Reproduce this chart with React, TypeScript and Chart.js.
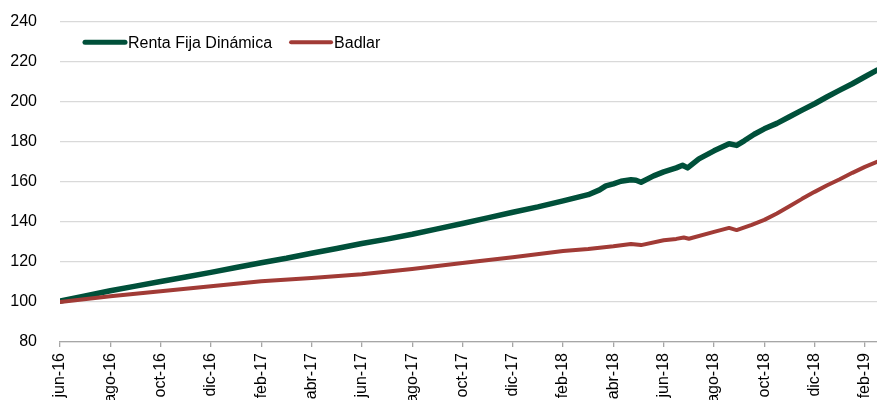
import React, { useEffect, useRef } from 'react';
import { Chart, registerables } from 'chart.js';

Chart.register(...registerables);

// X tick labels, one every two months starting at jun-16 (month index 0)
const tickLabels = [
  'jun-16', 'ago-16', 'oct-16', 'dic-16', 'feb-17', 'abr-17', 'jun-17', 'ago-17',
  'oct-17', 'dic-17', 'feb-18', 'abr-18', 'jun-18', 'ago-18', 'oct-18', 'dic-18', 'feb-19',
];
const seriesNames = ['Renta Fija Dinámica', 'Badlar'];
const seriesColors = ['#00503A', '#A13B36'];
const lastMonth = 32.48;

// Renta Fija Dinámica: months since 1-jun-2016, index value
const rentaMonths = [
  0, 1, 2, 3, 4, 5, 6, 7, 8, 9, 10, 11, 12, 13, 14, 15, 16, 17, 18, 19, 20, 21,
  21.45, 21.7, 22, 22.3, 22.7, 22.9, 23.1, 23.6, 24, 24.5, 24.75, 24.95, 25.4, 26,
  26.6, 26.9, 27.2, 27.6, 28, 28.5, 29, 29.5, 30, 30.5, 31, 31.5, 32, lastMonth,
];
const rentaValues = [
  100.5, 103.0, 105.6, 107.9, 110.2, 112.5, 114.8, 117.2, 119.6, 121.8, 124.3, 126.7,
  129.2, 131.4, 133.8, 136.5, 139.2, 142.0, 144.8, 147.5, 150.5, 153.6,
  156.0, 158.0, 159.0, 160.3, 161.0, 160.8, 159.8, 163.0, 165.0, 167.0, 168.3, 167.0,
  171.5, 175.5, 179.0, 178.2, 180.5, 183.8, 186.5, 189.2, 192.5, 195.8, 199.0, 202.5,
  205.8, 209.0, 212.5, 215.8,
];

// Badlar: months since 1-jun-2016, index value
const badlarMonths = [
  0, 2, 4, 6, 8, 10, 12, 14, 16, 18, 20, 21, 22, 22.7, 23.1, 24, 24.5, 24.8, 25.0,
  26, 26.6, 26.9, 27.5, 28, 28.5, 29, 29.5, 30, 30.5, 31, 31.5, 32, lastMonth,
];
const badlarValues = [
  100.0, 102.8, 105.3, 107.8, 110.3, 112.0, 113.8, 116.5, 119.5, 122.3, 125.5, 126.5,
  127.8, 129.0, 128.4, 130.8, 131.5, 132.2, 131.6, 135.0, 137.0, 135.9, 138.5, 141.0,
  144.2, 147.8, 151.5, 155.0, 158.3, 161.3, 164.5, 167.5, 170.0,
];

const yMin = 80;
const yMax = 240;
const yStep = 20;

const FONT = '"Liberation Sans", Arial, Helvetica, sans-serif';

const insideLegend = {
  id: 'insideLegend',
  afterDraw(chart: any) {
    const ctx = chart.ctx;
    const area = chart.chartArea;
    const y = area.top + 20.6;
    let x = area.left + 25;
    ctx.save();
    ctx.font = `16px ${FONT}`;
    ctx.textBaseline = 'middle';
    ctx.textAlign = 'left';
    chart.data.datasets.forEach((ds: any, i: number) => {
      ctx.strokeStyle = ds.borderColor;
      ctx.lineWidth = i === 0 ? 5 : 4;
      ctx.lineCap = 'round';
      ctx.beginPath();
      ctx.moveTo(x, y);
      ctx.lineTo(x + 40, y);
      ctx.stroke();
      x += 43;
      ctx.fillStyle = '#000';
      ctx.fillText(ds.label, x, y + 1);
      x += ctx.measureText(ds.label).width + 19;
    });
    ctx.restore();
  },
};

export default function App() {
  const canvasRef = useRef<HTMLCanvasElement | null>(null);

  useEffect(() => {
    if (!canvasRef.current) return;
    const chart = new Chart(canvasRef.current, {
      type: 'line',
      data: {
        datasets: [
          {
            label: seriesNames[0],
            data: rentaMonths.map((m, i) => ({ x: m, y: rentaValues[i] })),
            borderColor: seriesColors[0],
            backgroundColor: seriesColors[0],
            borderWidth: 5.5,
            pointRadius: 0,
            tension: 0,
            borderJoinStyle: 'round',
            borderCapStyle: 'round',
            order: 1,
          },
          {
            label: seriesNames[1],
            data: badlarMonths.map((m, i) => ({ x: m, y: badlarValues[i] })),
            borderColor: seriesColors[1],
            backgroundColor: seriesColors[1],
            borderWidth: 4,
            pointRadius: 0,
            tension: 0,
            borderJoinStyle: 'round',
            borderCapStyle: 'round',
            order: 0,
          },
        ],
      },
      options: {
        animation: false,
        responsive: false,
        maintainAspectRatio: false,
        layout: { padding: { top: 21.7, right: 0, left: 0, bottom: 0 } },
        plugins: {
          legend: { display: false },
          tooltip: { enabled: false },
        },
        scales: {
          x: {
            type: 'linear',
            min: 0,
            max: lastMonth,
            afterBuildTicks: (scale: any) => {
              scale.ticks = tickLabels.map((_, i) => ({ value: i * 2 }));
            },
            afterFit: (scale: any) => {
              scale.height = 58;
              scale.paddingLeft = 0;
              scale.paddingRight = 0;
            },
            border: { display: true, color: '#a6a6a6', width: 1.3 },
            grid: {
              display: true,
              drawOnChartArea: false,
              drawTicks: true,
              tickLength: 5,
              color: '#a6a6a6',
              lineWidth: 1.3,
            },
            ticks: {
              autoSkip: false,
              maxRotation: 90,
              minRotation: 90,
              padding: 6,
              color: '#000',
              font: { family: FONT, size: 16 },
              callback: (v: any) => {
                const idx = Math.round(Number(v) / 2);
                return tickLabels[idx] ?? '';
              },
            },
          },
          y: {
            type: 'linear',
            min: yMin,
            max: yMax,
            afterFit: (scale: any) => {
              scale.width = 60;
              scale.paddingTop = 0;
              scale.paddingBottom = 0;
            },
            border: { display: false },
            grid: {
              color: '#d9d9d9',
              lineWidth: 1.3,
              drawTicks: false,
            },
            ticks: {
              stepSize: yStep,
              padding: 23,
              color: '#000',
              font: { family: FONT, size: 16 },
            },
          },
        },
      },
      plugins: [insideLegend],
    });
    return () => chart.destroy();
  }, []);

  return (
    <div style={{ position: 'absolute', left: 0, top: 0, width: 877, height: 400, overflow: 'hidden', background: '#fff' }}>
      <canvas ref={canvasRef} width={877} height={400} style={{ width: 877, height: 400 }} />
    </div>
  );
}
